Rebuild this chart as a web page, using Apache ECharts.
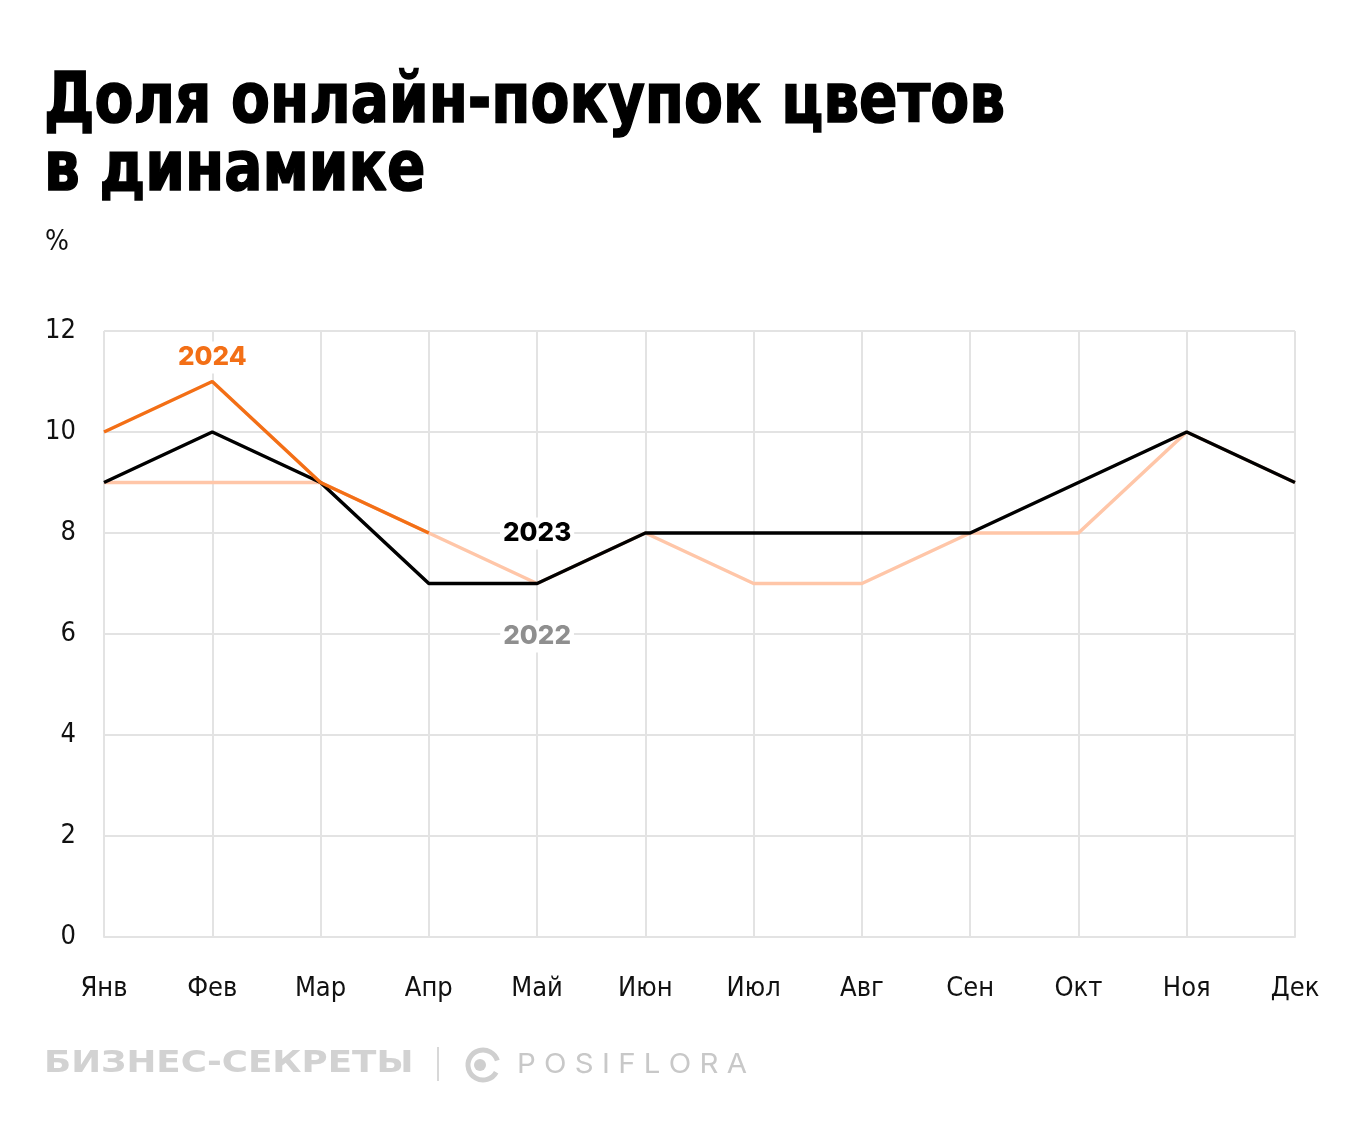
<!DOCTYPE html>
<html>
<head>
<meta charset="utf-8">
<script src="https://cdn.jsdelivr.net/npm/echarts@6/dist/echarts.min.js"></script>
<style>
  html, body { margin: 0; padding: 0; background: #fff; }
  #chart { width: 1360px; height: 1147px; }
</style>
</head>
<body>
<div id="chart"></div>
<script>
const months = ["Янв", "Фев", "Мар", "Апр", "Май", "Июн", "Июл", "Авг", "Сен", "Окт", "Ноя", "Дек"];
const y2022 = [9, 9, 9, 8, 7, 8, 7, 7, 8, 8, 10, 9];
const y2023 = [9, 10, 9, 7, 7, 8, 8, 8, 8, 9, 10, 9];
const y2024 = [10, 11, 9, 8, null, null, null, null, null, null, null, null];
const yTicks = [0, 2, 4, 6, 8, 10, 12];

const condensed = "'Liberation Sans Narrow', 'DejaVu Sans Condensed', 'Roboto', sans-serif";
const labelFont = "'Inter', 'Roboto', sans-serif";

// подпись года у выбранной точки
function yearMark(name, idx, values, color, dy) {
  return {
    symbol: "circle",
    symbolSize: 1,
    itemStyle: { color: "transparent" },
    data: [{
      coord: [months[idx], values[idx]],
      label: {
        show: true,
        formatter: name,
        position: "inside",
        offset: [0, dy],
        color: color,
        fontFamily: labelFont,
        fontWeight: 800,
        fontSize: 26,
        backgroundColor: "#fff",
        padding: [3, 3],
      },
    }],
  };
}

const chart = echarts.init(document.getElementById("chart"));
chart.setOption({
  animation: false,
  backgroundColor: "#fff",
  grid: { left: 104, right: 65, top: 331, bottom: 210 },
  xAxis: {
    type: "category",
    data: months,
    boundaryGap: false,
    axisLine: { lineStyle: { color: "#e3e3e3", width: 2 } },
    axisTick: { show: false },
    splitLine: { show: true, lineStyle: { color: "#e3e3e3", width: 2 } },
    axisLabel: {
      color: "#111",
      fontFamily: condensed,
      fontSize: 27,
      margin: 38,
    },
  },
  yAxis: {
    type: "value",
    min: yTicks[0],
    max: yTicks[yTicks.length - 1],
    interval: 2,
    axisLine: { show: false },
    axisTick: { show: false },
    splitLine: { lineStyle: { color: "#e3e3e3", width: 2 } },
    axisLabel: {
      color: "#111",
      fontFamily: condensed,
      fontSize: 27,
      margin: 28,
    },
  },
  series: [
    {
      name: "2022",
      type: "line",
      data: y2022,
      symbol: "none",
      z: 2,
      lineStyle: { color: "#ffc6a8", width: 3.5 },
      markPoint: yearMark("2022", 4, y2022, "#8f8f8f", 53),
    },
    {
      name: "2023",
      type: "line",
      data: y2023,
      symbol: "none",
      z: 3,
      lineStyle: { color: "#000", width: 3.5 },
      markPoint: yearMark("2023", 4, y2023, "#000", -50),
    },
    {
      name: "2024",
      type: "line",
      data: y2024,
      symbol: "none",
      z: 4,
      lineStyle: { color: "#f36f16", width: 3.5 },
      markPoint: yearMark("2024", 1, y2024, "#f36f16", -24),
    },
  ],
  graphic: [
    {
      type: "text",
      x: 44,
      y: 70,
      scaleX: 0.9,
      style: {
        text: "Доля онлайн-покупок цветов\nв динамике",
        font: "900 70px " + condensed,
        lineHeight: 68,
        fill: "#000",
        stroke: "#000",
        lineWidth: 1.5,
      },
    },
    {
      type: "text",
      x: 45,
      y: 229,
      style: { text: "%", font: "28px " + condensed, fill: "#111" },
    },
    {
      type: "text",
      x: 44,
      y: 1049,
      scaleX: 1.19,
      style: {
        text: "БИЗНЕС-СЕКРЕТЫ",
        font: "900 30px 'DejaVu Sans', sans-serif",
        fill: "#d2d2d2",
      },
    },
    {
      type: "rect",
      shape: { x: 437, y: 1047, width: 2, height: 34 },
      style: { fill: "#d8d8d8" },
    },
    {
      type: "arc",
      shape: { cx: 483, cy: 1065, r: 15, startAngle: 0.5, endAngle: Math.PI * 2 - 0.3 },
      style: { fill: "none", stroke: "#cfcfcf", lineWidth: 5 },
    },
    {
      type: "circle",
      shape: { cx: 480, cy: 1065, r: 6 },
      style: { fill: "#cfcfcf" },
    },
    {
      type: "text",
      x: 517,
      y: 1051,
      scaleX: 1.09,
      style: {
        text: "P O S I F L O R A",
        font: "400 27px 'Inter', sans-serif",
        fill: "#c8c8c8",
      },
    },
  ],
});
</script>
</body>
</html>
